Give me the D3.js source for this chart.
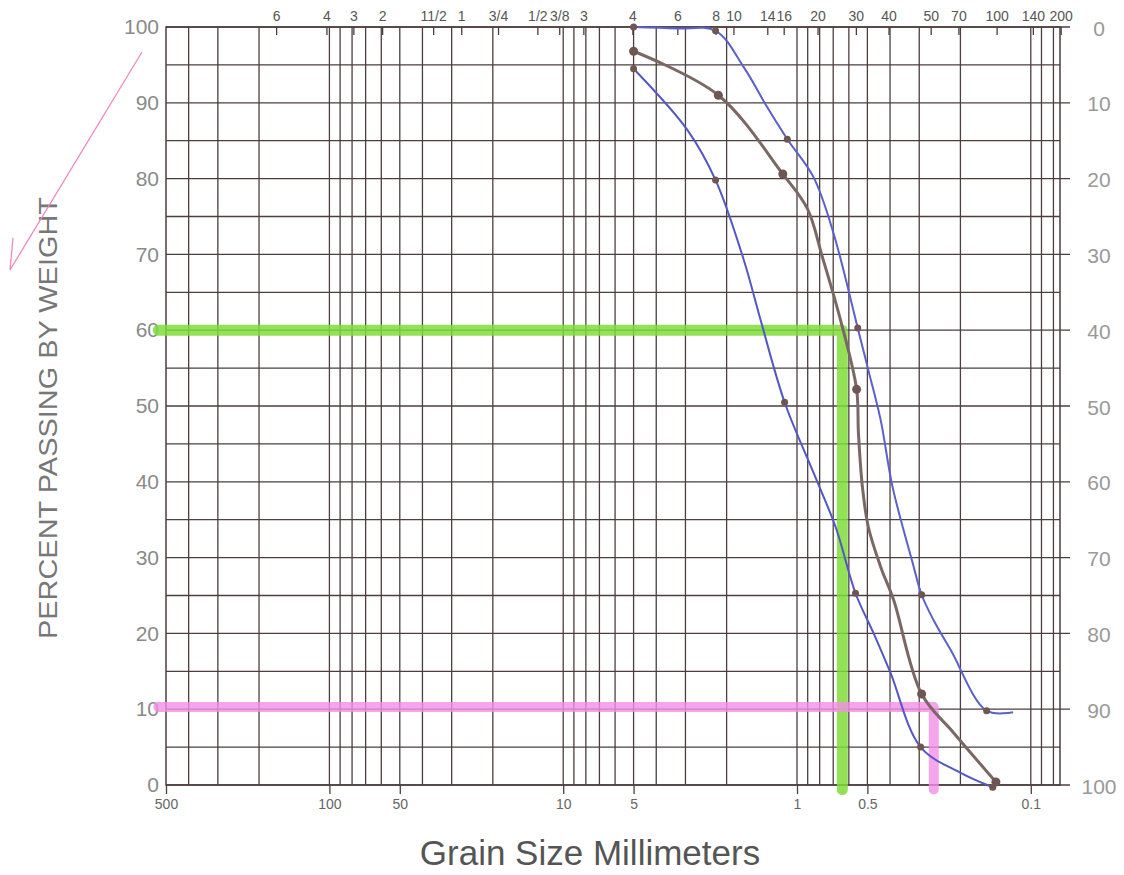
<!DOCTYPE html>
<html>
<head>
<meta charset="utf-8">
<script src="https://cdn.jsdelivr.net/npm/d3@7"></script>
<style>
  body { margin: 0; background: #fff; }
  svg { display: block; font-family: "Liberation Sans", Arial, sans-serif; }
</style>
</head>
<body>
<script>
// Grain size chart (percent passing vs. sieve size, log scale reversed)

// vertical grid lines, mm
const gridSizes = [400, 300, 200, 100, 90, 80, 70, 60, 50, 40, 30, 20, 10, 9, 8, 7, 6, 5, 4, 3, 2,
  1, 0.9, 0.8, 0.7, 0.6, 0.5, 0.4, 0.3, 0.2, 0.1, 0.09, 0.08];
// labelled millimetre ticks on the bottom edge
const mmTicks = [500, 100, 50, 10, 5, 1, 0.5, 0.1];
const mmTickLabels = ['500', '100', '50', '10', '5', '1', '0.5', '0.1'];
// sieve labels along the top edge and where they sit (mm)
const sieveLabels = ['6', '4', '3', '2', '11/2', '1', '3/4', '1/2', '3/8', '3', '4', '6', '8', '10',
  '14', '16', '20', '30', '40', '50', '70', '100', '140', '200'];
const sieveSizes = [169, 103, 79, 59.5, 36, 27.3, 19, 12.9, 10.4, 8.2, 5.06, 3.25, 2.23, 1.87,
  1.34, 1.14, 0.817, 0.56, 0.406, 0.268, 0.204, 0.14, 0.098, 0.0745];
const percentTicks = [0, 10, 20, 30, 40, 50, 60, 70, 80, 90, 100];

// coarse limit (left blue curve): [size mm, percent passing]
const coarseCurve = [[5.0, 94.5], [2.94, 86.4], [2.23, 79.8], [1.69, 69.3], [1.43, 61.3],
  [1.13, 50.5], [0.85, 41.2], [0.683, 34], [0.562, 25.3], [0.47, 20], [0.398, 14.8], [0.296, 5],
  [0.1995, 1.6], [0.1455, -0.3]];
const coarseMarks = [[5.0, 94.5], [2.23, 79.8], [1.13, 50.5], [0.562, 25.3], [0.296, 5], [0.1455, -0.3]];

// sample (brown curve)
const sampleCurve = [[5.0, 96.8], [2.17, 91], [1.15, 80.6], [0.902, 76], [0.778, 69.6], [0.651, 61.3],
  [0.556, 52.2], [0.546, 46.4], [0.525, 39.3], [0.495, 34], [0.439, 28.8], [0.386, 24.4],
  [0.293, 12], [0.214, 6.9], [0.141, 0.4]];
const sampleMarks = [[5.0, 96.8], [2.17, 91], [1.15, 80.6], [0.556, 52.2], [0.293, 12], [0.141, 0.4]];

// fine limit (right blue curve)
const fineCurve = [[5.0, 100], [3.25, 99.8], [2.23, 99.5], [1.69, 94.7], [1.34, 89.4], [1.10, 85.2],
  [0.85, 80.2], [0.698, 72.8], [0.55, 60.3], [0.495, 54.7], [0.439, 48.2], [0.39, 39.3],
  [0.32, 29.3], [0.293, 25.1], [0.261, 21.8], [0.22, 17.8], [0.1545, 9.8], [0.119, 9.6]];
const fineMarks = [[5.0, 100], [2.23, 99.5], [1.10, 85.2], [0.55, 60.3], [0.293, 25.1], [0.1545, 9.8]];

// highlighter lines: D60 and D10
const d60Path = [[540, 60], [0.64, 60], [0.64, -0.6]];
const d10Path = [[540, 10.3], [0.26, 10.3], [0.26, -0.6]];

const width = 1124, height = 875;
const gridColor = '#4d3e3f';

const svg = d3.select('body').append('svg')
  .attr('width', width)
  .attr('height', height);

const x = d3.scaleLog().domain([500, 0.075]).range([166, 1060]);
const y = d3.scaleLinear().domain([0, 100]).range([785, 27]);

// horizontal grid every 5 %
const grid = svg.append('g').attr('id', 'grid');
grid.selectAll('line.h')
  .data(d3.range(0, 101, 5))
  .join('line')
  .attr('class', 'h')
  .attr('x1', x(500))
  .attr('x2', d => (d % 10 === 0 ? x(0.075) + 10 : x(0.075)))
  .attr('y1', d => y(d)).attr('y2', d => y(d))
  .attr('stroke', gridColor).attr('stroke-width', 1.3);

// vertical grid
grid.selectAll('line.v')
  .data(gridSizes)
  .join('line')
  .attr('class', 'v')
  .attr('x1', d => x(d)).attr('x2', d => x(d))
  .attr('y1', y(100)).attr('y2', y(0))
  .attr('stroke', gridColor).attr('stroke-width', 1.3);

// frame
grid.append('rect')
  .attr('x', x(500)).attr('y', y(100))
  .attr('width', x(0.075) - x(500)).attr('height', y(0) - y(100))
  .attr('fill', 'none').attr('stroke', gridColor).attr('stroke-width', 1.5);

// bottom axis (mm)
const bottomAxis = d3.axisBottom(x)
  .tickValues(mmTicks)
  .tickFormat((d, i) => mmTickLabels[i])
  .tickSize(9)
  .tickPadding(5);
const gb = svg.append('g').attr('transform', `translate(0,${y(0)})`).call(bottomAxis);
gb.select('.domain').remove();
gb.selectAll('line').attr('stroke', gridColor).attr('stroke-width', 1.3);
gb.selectAll('text').attr('fill', '#666').style('font-size', '14px');

// top axis (sieve numbers / inches)
const topAxis = d3.axisTop(x)
  .tickValues(sieveSizes)
  .tickFormat((d, i) => sieveLabels[i])
  .tickSize(-8)
  .tickPadding(4);
const gt = svg.append('g').attr('transform', `translate(0,${y(100)})`).call(topAxis);
gt.select('.domain').remove();
gt.selectAll('line').attr('stroke', gridColor).attr('stroke-width', 1.3);
gt.selectAll('text').attr('fill', '#555').attr('dy', '-2px').style('font-size', '14px');

// left axis: percent passing
const ga = svg.append('g').attr('transform', `translate(${x(500)},0)`)
  .call(d3.axisLeft(y).tickValues(percentTicks).tickSize(0).tickPadding(7));
ga.select('.domain').remove();
ga.selectAll('text').attr('fill', '#8a8a8a').style('font-size', '21px');

// right axis: percent retained
svg.append('g').selectAll('text')
  .data(percentTicks)
  .join('text')
  .attr('x', 1099)
  .attr('y', d => y(d) + 3)
  .attr('text-anchor', 'middle')
  .attr('dominant-baseline', 'middle')
  .attr('fill', '#999')
  .style('font-size', '21px')
  .text(d => 100 - d);

// highlighter marks
const line = d3.line().x(d => x(d[0])).y(d => y(d[1]));
svg.append('path').datum(d60Path)
  .attr('d', line)
  .attr('fill', 'none').attr('stroke', '#7fdc3a').attr('stroke-opacity', 0.85)
  .attr('stroke-width', 11).attr('stroke-linejoin', 'round').attr('stroke-linecap', 'round');
svg.append('path').datum(d10Path)
  .attr('d', line)
  .attr('fill', 'none').attr('stroke', '#f28ee6').attr('stroke-opacity', 0.8)
  .attr('stroke-width', 10).attr('stroke-linejoin', 'round').attr('stroke-linecap', 'round');

// curves
const smooth = d3.line().x(d => x(d[0])).y(d => y(d[1])).curve(d3.curveCatmullRom.alpha(0.5));
const series = [
  { pts: coarseCurve, marks: coarseMarks, color: '#5257c4', w: 2 },
  { pts: fineCurve, marks: fineMarks, color: '#5a60cc', w: 2 },
  { pts: sampleCurve, marks: sampleMarks, color: '#7b6763', w: 3 }
];
series.forEach(s => {
  svg.append('path').datum(s.pts)
    .attr('d', smooth)
    .attr('fill', 'none').attr('stroke', s.color).attr('stroke-width', s.w);
  svg.append('g').selectAll('circle')
    .data(s.marks)
    .join('circle')
    .attr('cx', d => x(d[0])).attr('cy', d => y(d[1]))
    .attr('r', s.w > 2 ? 4.5 : 3.5)
    .attr('fill', '#6e5652');
});

// axis titles
svg.append('text')
  .attr('transform', 'translate(57,418) rotate(-90)')
  .attr('text-anchor', 'middle')
  .attr('fill', '#777')
  .attr('textLength', 442).attr('lengthAdjust', 'spacingAndGlyphs')
  .style('font-size', '26px')
  .text('PERCENT PASSING BY WEIGHT');

svg.append('text')
  .attr('x', 590).attr('y', 865)
  .attr('text-anchor', 'middle')
  .attr('fill', '#555')
  .style('font-size', '35px')
  .text('Grain Size Millimeters');

// hand-drawn check mark
svg.append('path')
  .attr('d', 'M142,52 L10,270 L13,238')
  .attr('fill', 'none').attr('stroke', '#e98ac4').attr('stroke-width', 1.3);
</script>
</body>
</html>
